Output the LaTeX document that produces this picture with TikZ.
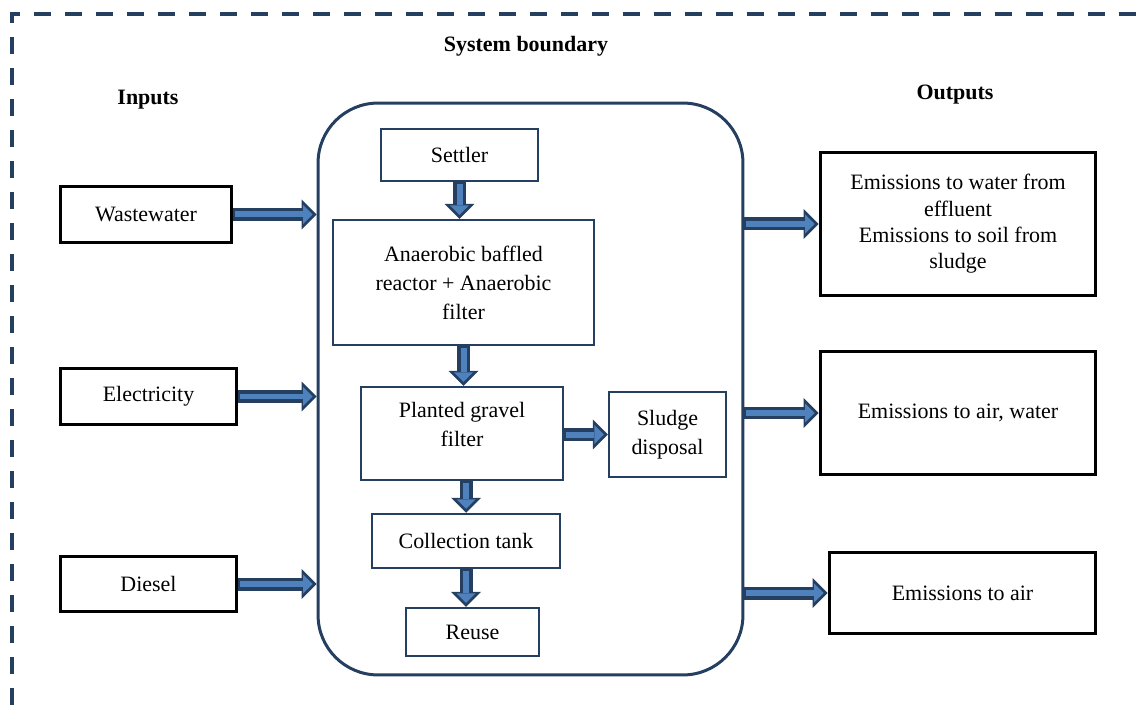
\documentclass[tikz,border=0pt]{standalone}
\usepackage{fontspec}
\setmainfont{Liberation Serif}
\usetikzlibrary{arrows.meta,positioning}
\definecolor{navyline}{HTML}{243F60}
\definecolor{flowfill}{HTML}{4F81BD}
\tikzset{every node/.append style={align=center}}
\tikzset{
  iobox/.style={draw=black, line width=0.06cm, inner sep=0pt},
  unitbox/.style={draw=navyline, line width=0.05cm, inner sep=0pt},
  headtext/.style={font=\fontsize{12.5}{15}\selectfont\bfseries},
  flowout/.style={draw=navyline, line width=0.26cm, -{Triangle[length=0.3cm,width=0.6cm,line width=0pt]}},
  flowin/.style={draw=flowfill, line width=0.12cm, shorten >=0.08cm, shorten <=0.03cm, -{Triangle[length=0.19cm,width=0.38cm,line width=0pt]}}
}
\newcommand{\flowarrow}[2]{%
  \draw[flowout] #1 -- #2;
  \draw[flowin] #1 -- #2;}

\begin{document}
\begin{tikzpicture}[x=0.02cm, y=-0.02cm, every node/.style={font=\fontsize{12.5}{16.5}\selectfont, align=center}]
  \useasboundingbox (0,0) rectangle (1138,705);
  % system boundary
  \draw[navyline, line width=0.08cm, dash pattern=on 0.34cm off 0.28cm] (12,705) -- (12,14) -- (1138,14);
  \node[headtext] (sysb) at (526,46) {System boundary};
  \node[headtext] (inputs) at (148,100) {Inputs};
  \node[headtext] (outputs) at (955,95) {Outputs};

  % inputs
  \node[iobox, minimum width=3.44cm, minimum height=1.14cm] (ww) at (146,214.5) {Wastewater};
  \node[iobox, minimum width=3.54cm, minimum height=1.14cm] (el) at (148.5,396.5) {Electricity};
  \node[iobox, minimum width=3.54cm, minimum height=1.12cm] (ds) at (148.5,584) {Diesel};

  % treatment system
  \node[draw=navyline, line width=0.06cm, rounded corners=1.2cm, minimum width=8.5cm, minimum height=11.44cm] (sys) at (530.5,389) {};
  \node[unitbox, minimum width=3.14cm, minimum height=1.04cm] (settler) at (459.5,155) {Settler};
  \node[unitbox, minimum width=5.22cm, minimum height=2.5cm] (abr) at (463.5,282.5) {Anaerobic baffled\\reactor + Anaerobic\\filter};
  \node[unitbox, minimum width=4.04cm, minimum height=1.86cm, text depth=0.35cm] (pgf) at (462,433.5) {Planted gravel\\filter};
  \node[unitbox, minimum width=2.34cm, minimum height=1.7cm] (sludge) at (667.5,434.5) {Sludge\\disposal};
  \node[unitbox, minimum width=3.76cm, minimum height=1.08cm] (coll) at (466,541) {Collection tank};
  \node[unitbox, minimum width=2.66cm, minimum height=0.96cm] (reuse) at (472.5,632) {Reuse};

  % outputs
  \node[iobox, minimum width=5.52cm, minimum height=2.88cm, font=\fontsize{12.5}{15}\selectfont] (out1) at (958,224) {Emissions to water from\\effluent\\Emissions to soil from\\sludge};
  \node[iobox, minimum width=5.52cm, minimum height=2.48cm] (out2) at (958,413) {Emissions to air, water};
  \node[iobox, minimum width=5.34cm, minimum height=1.64cm] (out3) at (962.5,593) {Emissions to air};

  % flows
  \flowarrow{(ww.east)}{(ww.east -| sys.west)}
  \flowarrow{(el.east)}{(el.east -| sys.west)}
  \flowarrow{(ds.east)}{(ds.east -| sys.west)}
  \flowarrow{(settler.south)}{(settler.south |- abr.north)}
  \flowarrow{(abr.south)}{(abr.south |- pgf.north)}
  \flowarrow{(pgf.east |- sludge.west)}{(sludge.west)}
  \flowarrow{(coll.north |- pgf.south)}{(coll.north)}
  \flowarrow{(coll.south)}{(coll.south |- reuse.north)}
  \flowarrow{(sys.east |- out1.west)}{(out1.west)}
  \flowarrow{(sys.east |- out2.west)}{(out2.west)}
  \flowarrow{(sys.east |- out3.west)}{(out3.west)}
\end{tikzpicture}
\end{document}
